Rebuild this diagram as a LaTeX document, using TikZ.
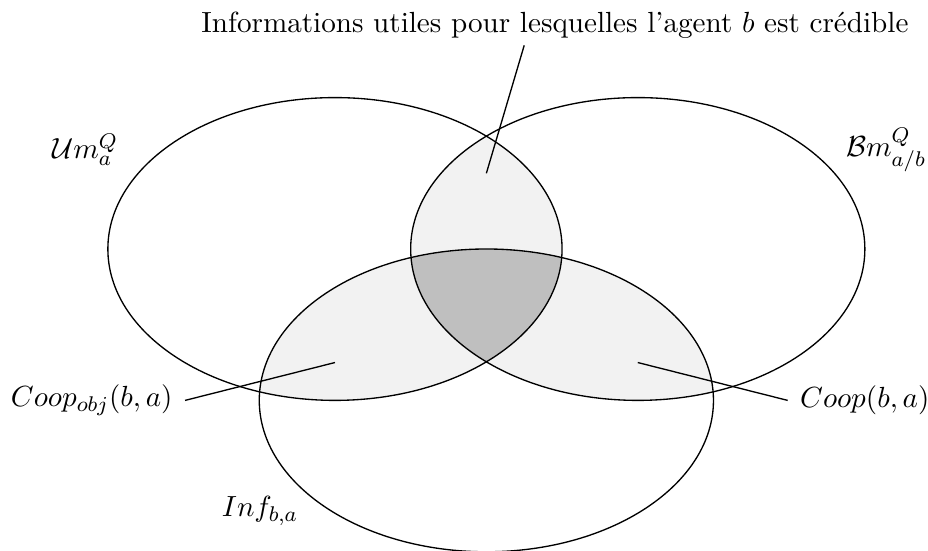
\documentclass[tikz,border=0pt]{standalone}
\begin{document}
\begin{tikzpicture}[
  venn/.style={draw=black, line width=0.5pt},
  lbl/.style={inner sep=2pt, font=\fontsize{10.95}{13.6}\selectfont},
  side/.style={lbl, inner sep=4.5pt},
  conn/.style={draw=black, line width=0.5pt}
]
\useasboundingbox (-4.425,-3.989) rectangle (7.834,3.289);
\def\ellA{(0,0) ellipse [x radius=3cm, y radius=2cm]}
\def\ellB{(4,0) ellipse [x radius=3cm, y radius=2cm]}
\def\ellC{(2,-2) ellipse [x radius=3cm, y radius=2cm]}
% pairwise intersections
\begin{scope}\clip \ellA; \fill[gray!10] \ellB; \end{scope}
\begin{scope}\clip \ellA; \fill[gray!10] \ellC; \end{scope}
\begin{scope}\clip \ellB; \fill[gray!10] \ellC; \end{scope}
% triple intersection
\begin{scope}\clip \ellA; \clip \ellB; \fill[gray!50] \ellC; \end{scope}
\draw[venn] \ellA;
\draw[venn] \ellB;
\draw[venn] \ellC;
% labels
\node[lbl] (um) at (-3.30,1.31) {$\mathcal{U}m_a^Q$};
\node[lbl] (bm) at (7.28,1.31) {$\mathcal{B}m_{a/b}^Q$};
\node[lbl] (inf) at (-0.99,-3.46) {$Inf_{b,a}$};
\node[side, anchor=east] (coopobj) at (-1.98,-2.0) {$Coop_{obj}(b,a)$};
\node[side, anchor=west] (coop) at (5.98,-2.0) {$Coop(b,a)$};
\node[lbl] (top) at (2.906,2.96) {Informations utiles pour lesquelles l'agent $b$ est crédible};
% connector points
\coordinate (pl) at (0,-1.5);
\coordinate (pr) at (4,-1.5);
\coordinate (pt) at (2,1);
\coordinate (tt) at (2.5,2.69);
\draw[conn] (pl) -- (coopobj.east);
\draw[conn] (pr) -- (coop.west);
\draw[conn] (pt) -- (tt);
\end{tikzpicture}
\end{document}
